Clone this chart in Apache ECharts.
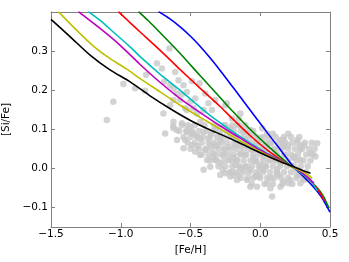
<!DOCTYPE html>
<html><head><meta charset="utf-8">
<script src="https://cdn.jsdelivr.net/npm/echarts@6/dist/echarts.min.js"></script>
<style>html,body{margin:0;padding:0;background:#fff}#c{width:349px;height:262px}</style>
</head><body><div id="c"></div>
<script>
const xTicks = [-1.5, -1.0, -0.5, 0.0, 0.5];
const yTicks = [-0.1, 0.0, 0.1, 0.2, 0.3];

const starX = [-1.100,-1.053,-0.981,-0.897,-0.826,-0.741,-0.705,-0.651,-0.610,-0.694,-0.682,-0.624,-0.818,-0.586,-0.689,-0.490,-0.550,-0.435,-0.622,-0.526,-0.598,-0.574,-0.466,-0.622,-0.322,-0.251,-0.394,-0.406,-0.478,-0.538,-0.371,-0.646,-0.502,-0.646,-0.239,-0.346,-0.454,-0.526,-0.622,-0.562,-0.502,-0.430,-0.598,-0.526,-0.406,-0.310,-0.203,-0.167,-0.119,-0.287,-0.454,-0.191,-0.371,-0.143,-0.550,-0.490,-0.430,-0.466,-0.382,-0.310,-0.335,-0.287,-0.263,-0.227,-0.203,-0.167,-0.143,-0.107,-0.071,-0.035,-0.011,0.001,0.037,0.049,-0.215,-0.358,-0.095,-0.287,-0.023,-0.059,-0.203,-0.143,-0.071,-0.358,-0.406,-0.251,0.024,-0.155,-0.227,0.264,0.408,0.312,0.360,0.240,0.168,0.073,0.073,0.144,0.024,0.120,-0.035,0.073,0.168,0.144,0.085,0.216,0.264,0.312,-0.023,-0.155,0.013,0.049,-0.562,-0.538,-0.488,-0.394,-0.322,-0.251,-0.179,-0.107,-0.071,-0.035,0.037,0.108,0.180,0.216,0.108,0.001,-0.107,-0.179,-0.251,-0.322,-0.287,-0.143,0.144,0.201,0.287,0.287,0.167,-0.107,-0.215,0.001,-0.430,-0.622,-0.597,0.073,0.204,-0.167,0.288,0.345,0.396];
const starY = [0.123,0.170,0.215,0.204,0.198,0.268,0.255,0.306,0.246,0.140,0.089,0.108,0.239,0.225,0.221,0.223,0.212,0.217,0.204,0.195,0.191,0.174,0.178,0.174,0.174,0.161,0.191,0.149,0.153,0.153,0.166,0.212,0.170,0.161,0.166,0.149,0.140,0.149,0.119,0.115,0.106,0.119,0.098,0.093,0.093,0.106,0.127,0.110,0.093,0.085,0.081,0.081,0.076,0.140,0.051,0.089,0.076,0.042,0.021,0.059,0.038,0.013,0.034,0.055,-0.009,0.021,0.038,0.004,-0.047,0.017,-0.021,0.042,0.004,-0.038,-0.021,0.004,-0.030,0.072,0.072,0.047,0.085,0.064,-0.004,0.059,-0.004,-0.013,0.030,-0.017,0.021,0.072,0.064,0.059,0.038,0.030,0.055,0.064,0.021,0.013,-0.004,-0.013,-0.021,-0.025,-0.034,-0.047,-0.072,-0.030,-0.017,-0.030,-0.047,0.127,0.102,0.089,0.189,0.072,0.059,0.047,0.098,0.110,0.059,0.072,0.098,0.059,0.059,0.047,0.034,0.008,0.021,0.008,0.034,0.008,0.047,0.021,-0.017,0.001,0.072,0.059,0.021,0.047,0.072,0.110,0.102,0.077,0.034,0.102,0.072,-0.051,-0.038,-0.030,-0.038,-0.025,0.030];

// dense core of the star cloud, read row by row
const cloudRowY = [0.11, 0.095, 0.08, 0.065, 0.05, 0.035, 0.02, 0.005, -0.01, -0.025, -0.04,
                   0.088, 0.057, 0.027, -0.003, -0.018];
const cloudRowX = [
  [-0.56,-0.52,-0.47,-0.40,-0.33,-0.26,-0.20,-0.15],
  [-0.58,-0.53,-0.49,-0.44,-0.38,-0.34,-0.29,-0.24,-0.19,-0.14,-0.10,-0.05],
  [-0.55,-0.50,-0.45,-0.41,-0.36,-0.31,-0.26,-0.22,-0.17,-0.12,-0.08,-0.03,0.02,0.06,0.11,0.17,0.22,0.28],
  [-0.52,-0.47,-0.42,-0.37,-0.33,-0.28,-0.24,-0.19,-0.15,-0.10,-0.06,-0.01,0.04,0.08,0.13,0.18,0.23,0.27,0.32,0.37],
  [-0.50,-0.44,-0.39,-0.35,-0.30,-0.26,-0.21,-0.17,-0.12,-0.08,-0.03,0.01,0.05,0.10,0.15,0.20,0.25,0.30,0.35,0.39],
  [-0.42,-0.37,-0.32,-0.28,-0.23,-0.19,-0.14,-0.10,-0.05,-0.01,0.03,0.08,0.12,0.17,0.22,0.27,0.33,0.38],
  [-0.36,-0.31,-0.26,-0.21,-0.17,-0.12,-0.07,-0.03,0.02,0.06,0.11,0.15,0.20,0.26,0.31,0.36],
  [-0.30,-0.25,-0.20,-0.15,-0.10,-0.06,-0.01,0.04,0.09,0.14,0.19,0.24,0.29,0.34],
  [-0.22,-0.17,-0.12,-0.08,-0.03,0.02,0.07,0.12,0.17,0.22,0.28,0.33],
  [-0.14,-0.09,-0.05,0.00,0.05,0.10,0.15,0.20,0.26,0.31],
  [-0.06,0.03,0.09,0.16,0.23],
  [-0.48,-0.35,-0.21,-0.06,0.09,0.20],
  [-0.45,-0.32,-0.14,0.03,0.16,0.29],
  [-0.34,-0.19,-0.05,0.10,0.24],
  [-0.27,-0.13,0.00,0.12,0.26],
  [-0.19,-0.02,0.13,0.28]
];

const curveBlue = [[-0.729,0.40],[-0.65,0.382],[-0.574,0.361],[-0.5,0.337],[-0.43,0.311],[-0.36,0.282],[-0.286,0.249],[-0.215,0.216],[-0.143,0.182],[-0.035,0.131],[0.05,0.091],[0.13,0.054],[0.229,0.008],[0.3,-0.018],[0.38,-0.047],[0.44,-0.074],[0.5,-0.112]];
const curveGreen = [[-0.873,0.40],[-0.8,0.376],[-0.717,0.346],[-0.574,0.293],[-0.43,0.236],[-0.286,0.180],[-0.215,0.152],[-0.071,0.099],[0.07,0.052],[0.2,0.012],[0.3,-0.013],[0.4,-0.047],[0.45,-0.07],[0.49,-0.1]];
const curveRed = [[-1.017,0.40],[-0.94,0.374],[-0.861,0.348],[-0.717,0.301],[-0.574,0.252],[-0.43,0.204],[-0.286,0.157],[-0.215,0.132],[-0.071,0.083],[0.07,0.041],[0.2,0.01],[0.3,-0.013],[0.4,-0.048],[0.46,-0.083]];
const curveCyan = [[-1.232,0.40],[-1.15,0.378],[-1.076,0.355],[-0.933,0.31],[-0.861,0.285],[-0.717,0.240],[-0.574,0.199],[-0.466,0.166],[-0.36,0.135],[-0.215,0.098],[-0.071,0.064],[0.07,0.034],[0.2,0.01],[0.3,-0.014],[0.37,-0.035],[0.41,-0.058]];
const curveMagenta = [[-1.304,0.40],[-1.148,0.357],[-1.004,0.314],[-0.861,0.265],[-0.717,0.219],[-0.574,0.178],[-0.43,0.142],[-0.286,0.108],[-0.143,0.077],[0.0,0.046],[0.13,0.022],[0.25,0.0],[0.33,-0.02],[0.385,-0.038]];
const curveYellow = [[-1.447,0.40],[-1.315,0.352],[-1.196,0.312],[-1.076,0.28],[-0.956,0.253],[-0.861,0.229],[-0.717,0.195],[-0.574,0.161],[-0.43,0.13],[-0.286,0.1],[-0.143,0.07],[0.0,0.042],[0.13,0.02],[0.25,0.0],[0.32,-0.012],[0.372,-0.026]];
const curveBlack = [[-1.5,0.38],[-1.36,0.335],[-1.22,0.289],[-1.08,0.252],[-0.93,0.22],[-0.79,0.185],[-0.645,0.152],[-0.5,0.122],[-0.36,0.098],[-0.215,0.076],[-0.07,0.051],[0.07,0.028],[0.15,0.016],[0.24,0.004],[0.3,-0.005],[0.36,-0.013]];

const curves = [
  {data: curveBlue, color: '#0000ff'},
  {data: curveGreen, color: '#008000'},
  {data: curveRed, color: '#ff0000'},
  {data: curveCyan, color: '#00bfbf'},
  {data: curveMagenta, color: '#bf00bf'},
  {data: curveYellow, color: '#bfbf00'},
  {data: curveBlack, color: '#000000'}
];

const starPts = starX.map((x, i) => [x, starY[i]]);
cloudRowX.forEach((row, r) => row.forEach(x => starPts.push([x, cloudRowY[r]])));

const fmt = v => { const s = Math.abs(v).toFixed(1); return v < -1e-9 ? '\u2212' + s : s; };
const FONT = 'DejaVu Sans';
const spine = {show: true, onZero: false, lineStyle: {color: '#808080', width: 1}};
const tick = {show: true, inside: true, length: 4, lineStyle: {color: '#808080', width: 1}};

const chart = echarts.init(document.getElementById('c'), null, {renderer: 'canvas'});
chart.setOption({
  animation: false,
  backgroundColor: '#ffffff',
  grid: {left: 51, right: 19, top: 12, bottom: 35, containLabel: false, outerBoundsMode: 'none'},
  xAxis: [
    {type: 'value', min: -1.5, max: 0.5, interval: 0.5, position: 'bottom',
     axisLine: spine, axisTick: tick, splitLine: {show: false},
     axisLabel: {formatter: fmt, fontFamily: FONT, fontSize: 10.5, color: '#000', margin: 2},
     name: '[Fe/H]', nameLocation: 'middle', nameGap: 11,
     nameTextStyle: {fontFamily: FONT, fontSize: 10.5, color: '#000'}},
    {type: 'value', min: -1.5, max: 0.5, interval: 0.5, position: 'top',
     axisLine: spine, axisTick: tick, splitLine: {show: false}, axisLabel: {show: false}}
  ],
  yAxis: [
    {type: 'value', min: -0.15, max: 0.399, position: 'left',
     axisLine: spine, splitLine: {show: false},
     axisTick: Object.assign({customValues: yTicks}, tick),
     axisLabel: {customValues: yTicks, formatter: fmt, fontFamily: FONT, fontSize: 10.5, color: '#000', margin: 3},
     name: '[Si/Fe]', nameLocation: 'middle', nameGap: 27, nameRotate: 90,
     nameTextStyle: {fontFamily: FONT, fontSize: 10.5, color: '#000'}},
    {type: 'value', min: -0.15, max: 0.399, position: 'right',
     axisLine: spine, splitLine: {show: false},
     axisTick: Object.assign({customValues: yTicks}, tick),
     axisLabel: {show: false, customValues: yTicks}}
  ],
  series: [
    {type: 'scatter', xAxisIndex: 0, yAxisIndex: 0, symbol: 'circle', symbolSize: 6.5,
     itemStyle: {color: '#c8c8c8'}, silent: true, data: starPts, z: 1}
  ].concat(curves.map((c, i) => ({
    type: 'line', xAxisIndex: 0, yAxisIndex: 0, data: c.data, showSymbol: false, smooth: 0.25,
    clip: true, lineStyle: {color: c.color, width: 1.6}, z: 2 + i, silent: true
  })))
});
</script></body></html>
